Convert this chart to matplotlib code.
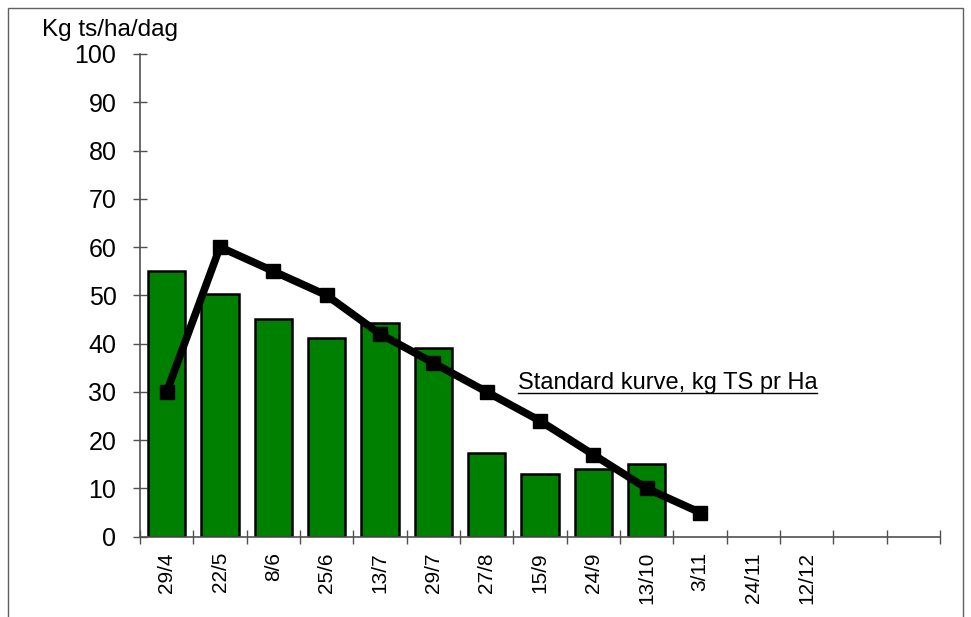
import matplotlib
matplotlib.use('Agg')
import matplotlib.pyplot as plt
from matplotlib.patches import Rectangle

plt.rcParams['font.family'] = ['Liberation Sans', 'DejaVu Sans']

# datoer (15 pladser på aksen, de sidste to uden navn)
dates = ['29/4', '22/5', '8/6', '25/6', '13/7', '29/7', '27/8', '15/9',
         '24/9', '13/10', '3/11', '24/11', '12/12', '', '']
# målt tilvækst, kg ts/ha/dag
growth = [55, 50.2, 45, 41.2, 44.2, 39.1, 17.3, 13, 14, 15]
# standard kurve
standard = [30, 60, 55, 50, 42, 36, 30, 24, 17, 10, 5]

fig = plt.figure(figsize=(9.71, 6.17), dpi=100)
ax = fig.add_axes([0.1442, 0.1302, 0.8238, 0.7823])

ax.bar(range(len(growth)), growth, width=0.7, color='#008000',
       edgecolor='black', linewidth=1.8, zorder=2)
ax.plot(range(len(standard)), standard, color='black', linewidth=5.5,
        marker='s', markersize=10.5, zorder=3)

ax.set_xlim(-0.5, len(dates) - 0.5)
ax.set_ylim(0, 100)
ax.set_yticks(range(0, 101, 10))
ax.set_yticklabels([str(v) for v in range(0, 101, 10)], fontsize=18)
ax.set_xticks([i + 0.5 for i in range(-1, len(dates))])
ax.set_xticklabels([])
ax.tick_params(axis='both', direction='inout', length=10, width=1, color='#505050')
ax.tick_params(axis='y', pad=12)
for i, d in enumerate(dates):
    ax.text(i, -3.2, d, rotation=90, ha='center', va='top', fontsize=15)

for s in ['top', 'right']:
    ax.spines[s].set_visible(False)
for s in ['left', 'bottom']:
    ax.spines[s].set_color('#505050')
    ax.spines[s].set_linewidth(1.2)

t = ax.text(6.58, 31.8, 'Standard kurve, kg TS pr Ha', fontsize=17,
            va='center', ha='left')
# understregning under teksten
fig.canvas.draw()
bb = t.get_window_extent().transformed(ax.transData.inverted())
ax.plot([bb.x0, bb.x1], [bb.y0 + 0.3, bb.y0 + 0.3], color='black',
        linewidth=1, clip_on=False)

fig.text(42 / 971, 1 - 30 / 617, 'Kg ts/ha/dag', fontsize=17.5, va='center', ha='left')

fig.patches.append(Rectangle((8 / 971, -0.1), 955 / 971, 1.1 - 8 / 617,
                             transform=fig.transFigure, fill=False,
                             edgecolor='#606060', linewidth=1))

fig.savefig('out.png', dpi=100)
